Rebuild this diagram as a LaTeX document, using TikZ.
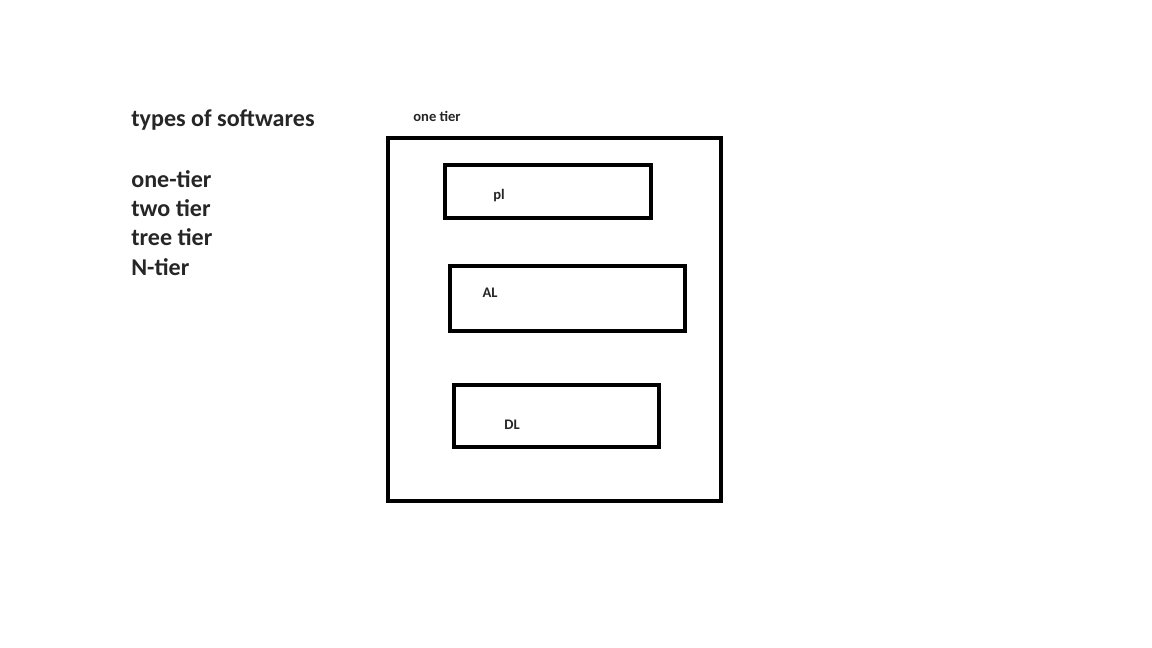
\documentclass[tikz,border=0pt]{standalone}
\usepackage{fontspec}
\setmainfont{Carlito}
\usepackage{xcolor}
\usepackage{tikz}
\definecolor{inkgray}{HTML}{262626}

\begin{document}
\begin{tikzpicture}[x=0.02cm,y=-0.02cm,
                tierbox/.style={draw=black,line width=0.09cm,rectangle,inner sep=0pt},
                bigtext/.style={anchor=west,inner sep=0pt,text=inkgray,font=\fontsize{13.7}{16}\selectfont\bfseries},
                smalltext/.style={inner sep=0pt,text=inkgray,font=\fontsize{8.3}{10}\selectfont\bfseries}]
                \useasboundingbox[fill=white] (0,0) rectangle (1152,648);
                \node[bigtext] (title) at (131,120) {types of softwares};
                \node[bigtext] (onetier) at (131,179) {one-tier};
                \node[bigtext] (twotier) at (131,208) {two tier};
                \node[bigtext] (treetier) at (131,237) {tree tier};
                \node[bigtext] (ntier) at (131,267) {N-tier};
                \node[smalltext] (caption) at (437,116) {one tier};
                \node[tierbox,minimum width=6.66cm,minimum height=7.26cm] (outer) at (554.5,319.5) {};
                \node[tierbox,minimum width=4.12cm,minimum height=1.06cm] (plbox) at (548,191.5) {};
                \node[tierbox,minimum width=4.70cm,minimum height=1.30cm] (albox) at (567.5,298.5) {};
                \node[tierbox,minimum width=4.10cm,minimum height=1.24cm] (dlbox) at (556.5,416) {};
                \node[smalltext] (pl) at (499,196) {pl};
                \node[smalltext] (al) at (490,293) {AL};
                \node[smalltext] (dl) at (512,425) {DL};
            \end{tikzpicture}
\end{document}
